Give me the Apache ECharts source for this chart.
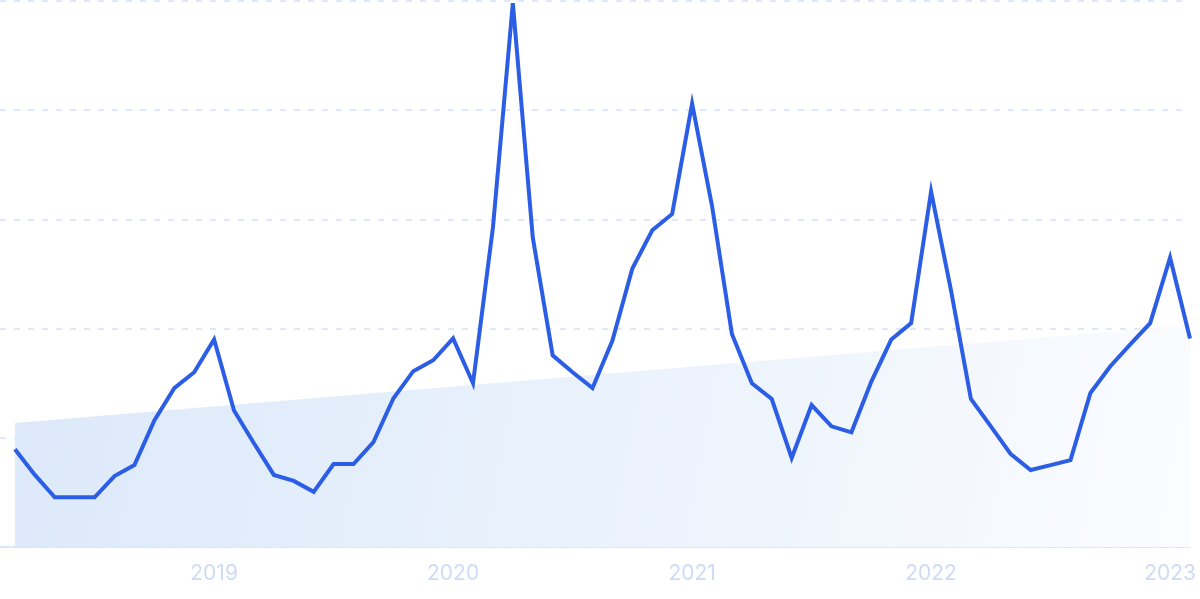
<!DOCTYPE html>
<html>
<head>
<meta charset="utf-8">
<style>
html,body{margin:0;padding:0;background:#fff;}
#c{width:1200px;height:599px;}
</style>
<script src="https://cdn.jsdelivr.net/npm/echarts@6/dist/echarts.min.js"></script>
</head>
<body>
<div id="c"></div>
<script>
// Monthly categories: 2018-03 .. 2023-02
const months = [
  '2018-03','2018-04','2018-05','2018-06','2018-07','2018-08','2018-09','2018-10','2018-11','2018-12',
  '2019-01','2019-02','2019-03','2019-04','2019-05','2019-06','2019-07','2019-08','2019-09','2019-10','2019-11','2019-12',
  '2020-01','2020-02','2020-03','2020-04','2020-05','2020-06','2020-07','2020-08','2020-09','2020-10','2020-11','2020-12',
  '2021-01','2021-02','2021-03','2021-04','2021-05','2021-06','2021-07','2021-08','2021-09','2021-10','2021-11','2021-12',
  '2022-01','2022-02','2022-03','2022-04','2022-05','2022-06','2022-07','2022-08','2022-09','2022-10','2022-11','2022-12',
  '2023-01','2023-02'
];
const values = [
  17.9,13.2,9.1,9.1,9.1,13.0,15.0,23.2,29.1,32.0,
  38.0,25.0,19.0,13.2,12.1,10.1,15.2,15.2,19.2,27.2,32.2,34.2,
  38.2,30.0,58.5,99.6,56.7,35.1,32.0,29.1,37.8,51.0,58.0,61.0,
  81.2,62.5,39.0,30.0,27.1,16.3,26.0,22.1,21.0,30.3,38.0,41.0,
  65.1,47.0,27.1,22.1,17.0,14.1,15.0,15.9,28.2,33.1,37.1,41.0,
  53.0,38.2
];
// Trend (start and end values)
const trendValues = [22.7, 40.6];
const yearLabels = ['2019','2020','2021','2022','2023'];
const yearMonths = ['2019-01','2020-01','2021-01','2022-01','2023-01'];

const lineData = values.map((v, i) => [i, v]);
const trendData = [[0, trendValues[0]], [months.length - 1, trendValues[1]]];
const labelPositions = yearMonths.map(m => months.indexOf(m));

const chart = echarts.init(document.getElementById('c'), null, {renderer: 'canvas'});
chart.setOption({
  animation: false,
  backgroundColor: '#ffffff',
  grid: {left: 0, right: 10, top: 1, bottom: 52, containLabel: false},
  xAxis: {
    type: 'value',
    min: -0.75,
    max: months.length - 1,
    axisLine: {show: true, lineStyle: {color: '#d5e3f8', width: 1.5}},
    axisTick: {show: false},
    splitLine: {show: false},
    axisLabel: {
      show: true,
      customValues: labelPositions,
      formatter: function (v) {
        const k = labelPositions.indexOf(Math.round(v));
        return k >= 0 ? yearLabels[k] : '';
      },
      color: '#cfdaf6',
      fontSize: 21,
      fontFamily: 'Inter, "Open Sans", sans-serif',
      margin: 16
    }
  },
  yAxis: {
    type: 'value',
    min: 0,
    max: 100,
    interval: 20,
    axisLine: {show: false},
    axisTick: {show: false},
    axisLabel: {show: false},
    splitLine: {show: true, lineStyle: {color: '#d4e0fc', width: 1.5, type: [6, 8]}}
  },
  series: [
    {
      type: 'line',
      data: trendData,
      symbol: 'none',
      silent: true,
      z: 1,
      lineStyle: {width: 0, opacity: 0},
      areaStyle: {
        opacity: 1,
        color: new echarts.graphic.LinearGradient(0, 0, 1, 1, [
          {offset: 0, color: '#dce9fa'},
          {offset: 0.5, color: '#eaf2fc'},
          {offset: 1, color: '#fbfcff'}
        ])
      }
    },
    {
      type: 'line',
      data: lineData,
      symbol: 'none',
      z: 3,
      lineStyle: {color: '#2c5de5', width: 4, join: 'miter', miterLimit: 10}
    }
  ]
});
</script>
</body>
</html>
